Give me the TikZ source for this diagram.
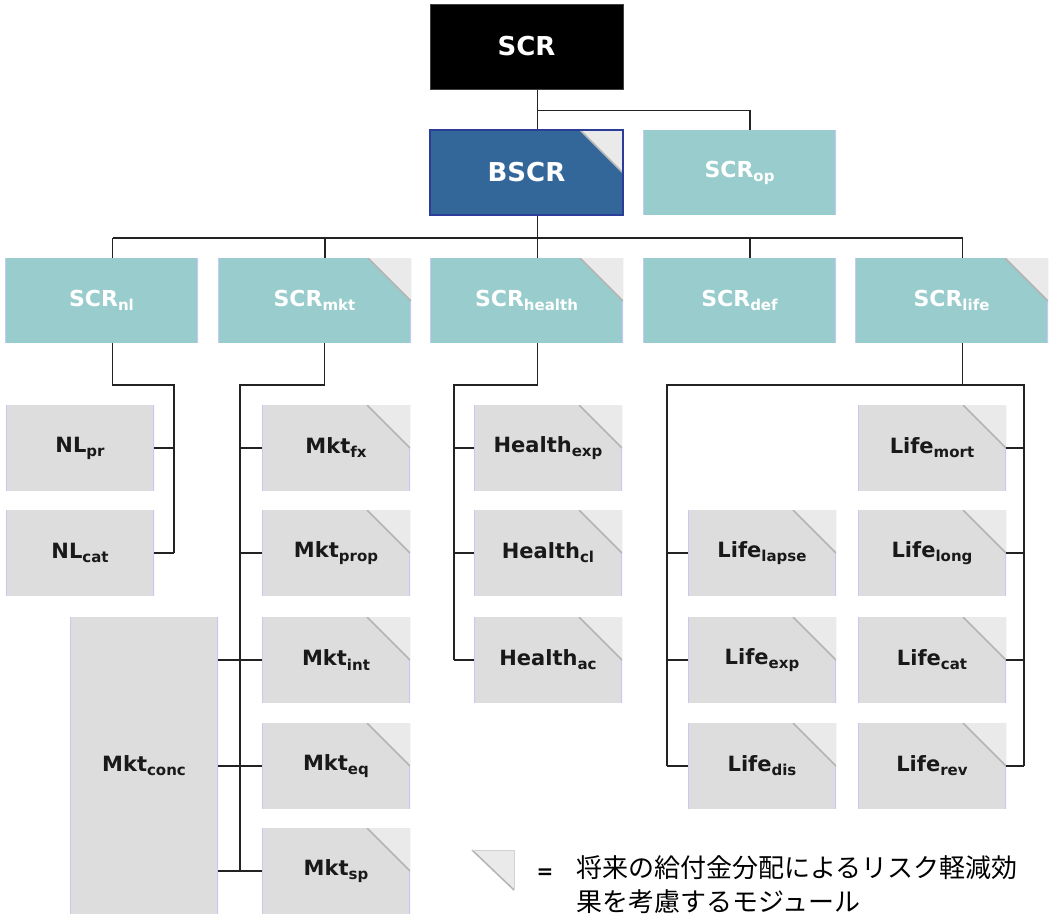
\documentclass[tikz,border=0pt]{standalone}
\usepackage{fontspec}
\setmainfont{DejaVu Sans}
\newfontfamily\jpfont{Noto Sans CJK JP}
\usetikzlibrary{calc}
\definecolor{bscrfill}{HTML}{336699}
\definecolor{bscrline}{HTML}{2B3C99}
\definecolor{tealfill}{HTML}{99CCCC}
\definecolor{grayfill}{HTML}{DDDDDD}
\definecolor{trifill}{HTML}{EAEAEA}
\definecolor{tridraw}{HTML}{B4B4B4}
\definecolor{sidecol}{HTML}{C8C8F4}
\definecolor{linecol}{HTML}{222222}
\newcommand\lbl[2]{#1\raisebox{-0.35ex}{\fontsize{15}{15}\selectfont #2}}
\newcommand\sidedraw{\draw[sidecol,line width=1.6pt] (path picture bounding box.north west) -- (path picture bounding box.south west) (path picture bounding box.north east) -- (path picture bounding box.south east);}
\newcommand\cornerdraw{\fill[trifill] (path picture bounding box.north east) -- ++(-43,0) -- ++(43,43) -- cycle;
  \draw[tridraw,line width=1.5pt] ($(path picture bounding box.north east)+(-43,0)$) -- ++(43,43);}
\begin{document}
\begin{tikzpicture}[x=1pt,y=-1pt,
  plain/.style={path picture={\sidedraw}},
  corner/.style={path picture={\sidedraw\cornerdraw}},
  bigbox/.style={rectangle, inner sep=0pt, minimum width=193pt, minimum height=85pt},
  topbox/.style={bigbox, fill=black, draw=black!75, line width=1pt, text=white, font=\bfseries\fontsize{26}{26}\selectfont},
  bscrbox/.style={bigbox, fill=bscrfill, draw=bscrline, line width=1.5pt, text=white, font=\bfseries\fontsize{26}{26}\selectfont,
     path picture={\cornerdraw}},
  tealbox/.style={bigbox, fill=tealfill, text=white, font=\bfseries\fontsize{22}{22}\selectfont},
  smallbox/.style={rectangle, inner sep=0pt, minimum width=148pt, minimum height=86pt, fill=grayfill, text=black!90, font=\bfseries\fontsize{21}{21}\selectfont},
  conn/.style={draw=linecol, line width=1.8pt},
  eqsign/.style={inner sep=0pt, font=\bfseries\fontsize{20}{20}\selectfont},
  legendtext/.style={inner sep=0pt, anchor=base west, align=left, font=\jpfont\fontsize{26}{34}\selectfont}
]
\useasboundingbox (0,0) rectangle (1049,922);

\coordinate (legtri) at (472,850);

% ---------- boxes ----------
\node[topbox] (SCR) at (526.5,46.5) {SCR};
\node[bscrbox] (BSCR) at (526.5,172.5) {BSCR};
\node[tealbox,plain] (SCRop) at (739.5,172.5) {\lbl{SCR}{op}};

\node[tealbox,plain]  (SCRnl)     at (101.5,300.5) {\lbl{SCR}{nl}};
\node[tealbox,corner] (SCRmkt)    at (314.5,300.5) {\lbl{SCR}{mkt}};
\node[tealbox,corner] (SCRhealth) at (526.5,300.5) {\lbl{SCR}{health}};
\node[tealbox,plain]  (SCRdef)    at (739.5,300.5) {\lbl{SCR}{def}};
\node[tealbox,corner] (SCRlife)   at (951.5,300.5) {\lbl{SCR}{life}};

\node[smallbox,plain] (NLpr)  at (80,448) {\lbl{NL}{pr}};
\node[smallbox,plain] (NLcat) at (80,553) {\lbl{NL}{cat}};

\node[smallbox,corner] (Mktfx)   at (336,448) {\lbl{Mkt}{fx}};
\node[smallbox,corner] (Mktprop) at (336,553) {\lbl{Mkt}{prop}};
\node[smallbox,corner] (Mktint)  at (336,660) {\lbl{Mkt}{int}};
\node[smallbox,corner] (Mkteq)   at (336,766) {\lbl{Mkt}{eq}};
\node[smallbox,corner] (Mktsp)   at (336,871) {\lbl{Mkt}{sp}};
\node[smallbox,plain,minimum height=297pt] (Mktconc) at (144,765.5) {\lbl{Mkt}{conc}};

\node[smallbox,corner] (Healthexp) at (548,448) {\lbl{Health}{exp}};
\node[smallbox,corner] (Healthcl)  at (548,553) {\lbl{Health}{cl}};
\node[smallbox,corner] (Healthac)  at (548,660) {\lbl{Health}{ac}};

\node[smallbox,corner] (Lifemort)  at (932,448) {\lbl{Life}{mort}};
\node[smallbox,corner] (Lifelong)  at (932,553) {\lbl{Life}{long}};
\node[smallbox,corner] (Lifecat)   at (932,660) {\lbl{Life}{cat}};
\node[smallbox,corner] (Liferev)   at (932,766) {\lbl{Life}{rev}};
\node[smallbox,corner] (Lifelapse) at (762,553) {\lbl{Life}{lapse}};
\node[smallbox,corner] (Lifeexp)   at (762,660) {\lbl{Life}{exp}};
\node[smallbox,corner] (Lifedis)   at (762,766) {\lbl{Life}{dis}};

% ---------- connectors ----------
\draw[conn] ($(SCR.south)+(11,0)$) -- ($(BSCR.north)+(11,0)$);
\draw[conn] ($(SCR.south)+(11,21)$) -| ($(SCRop.north)+(10.5,0)$);

\draw[conn] ($(BSCR.south)+(11,0)$) -- ($(BSCR.south)+(11,23)$);
\draw[conn] ($(SCRnl.north)+(11,-20)$) -- ($(SCRlife.north)+(11,-20)$);
\foreach \n/\d in {SCRnl/11,SCRmkt/10.5,SCRhealth/11,SCRdef/10.5,SCRlife/11}
  \draw[conn] ($(\n.north)+(\d,-20)$) -- ($(\n.north)+(\d,0)$);

% NL branch
\draw[conn] ($(SCRnl.south)+(11,0)$) |- ($(NLpr.east)+(20,-63)$) -- ($(NLcat.east)+(20,0)$);
\draw[conn] (NLpr.east) -- ++(20,0);
\draw[conn] (NLcat.east) -- ++(20,0);

% Mkt branch
\draw[conn] ($(SCRmkt.south)+(10,0)$) |- ($(Mktfx.west)+(-22,-63)$) -- ($(Mktsp.west)+(-22,0)$);
\foreach \n in {Mktfx,Mktprop}
  \draw[conn] (\n.west) -- ++(-22,0);
\foreach \n in {Mktint,Mkteq,Mktsp}
  \draw[conn] (Mktconc.east |- \n.west) -- (\n.west);

% Health branch
\draw[conn] ($(SCRhealth.south)+(11,0)$) |- ($(Healthexp.west)+(-20,-63)$) -- ($(Healthac.west)+(-20,0)$);
\foreach \n in {Healthexp,Healthcl,Healthac}
  \draw[conn] (\n.west) -- ++(-20,0);

% Life branch
\draw[conn] ($(SCRlife.south)+(11,0)$) -- ($(SCRlife.south)+(11,42)$);
\draw[conn] ($(Lifedis.west)+(-21,0)$) |- ($(Lifemort.east)+(18,-63)$) -- ($(Liferev.east)+(18,0)$);
\foreach \n in {Lifelapse,Lifeexp,Lifedis}
  \draw[conn] (\n.west) -- ++(-21,0);
\foreach \n in {Lifemort,Lifelong,Lifecat,Liferev}
  \draw[conn] (\n.east) -- ++(18,0);

% ---------- legend ----------
\fill[trifill] (legtri) -- ++(42,0) -- ++(0,40) -- cycle;
\draw[tridraw,line width=1.5pt] (legtri) -- ++(42,40);
\draw[tridraw!60,line width=0.8pt] (legtri) -- ++(42,0) -- ++(0,40);
\node[eqsign] (eq) at (545,874) {=};
\node[legendtext] (legend) at (576,911) {将来の給付金分配によるリスク軽減効\\果を考慮するモジュール};
\end{tikzpicture}
\end{document}
